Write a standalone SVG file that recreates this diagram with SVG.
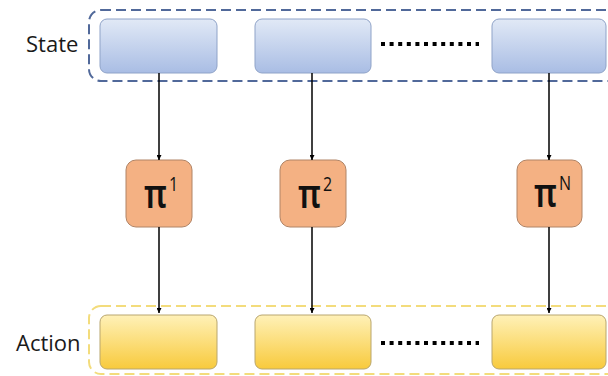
<svg xmlns="http://www.w3.org/2000/svg" width="608" height="376" viewBox="0 0 608 376">
  <defs>
    <linearGradient id="gBlue" x1="0" y1="0" x2="0" y2="1">
      <stop offset="0" stop-color="#e1e9f6"/>
      <stop offset="1" stop-color="#a9bde4"/>
    </linearGradient>
    <linearGradient id="gYellow" x1="0" y1="0" x2="0" y2="1">
      <stop offset="0" stop-color="#fff1b8"/>
      <stop offset="1" stop-color="#f8ca3c"/>
    </linearGradient>
    <marker id="arr" viewBox="0 0 10 10" refX="10" refY="5" markerWidth="5" markerHeight="5" orient="auto" markerUnits="userSpaceOnUse">
      <path d="M0,0 L10,5 L0,10 z" fill="#000"/>
    </marker>
    <style>
      .label { font-family: "Open Sans", "Liberation Sans", sans-serif; font-size: 22px; fill: #1a1a1a; }
      .pt { fill: #111; }
      .pi { font-family: "Noto Sans", "DejaVu Sans", sans-serif; font-size: 40px; font-weight: 600; }
      .sup { font-family: "Open Sans", "Liberation Sans", sans-serif; font-size: 20px; font-weight: 400; }
      .sbox { fill: url(#gBlue); stroke: #8fa3c8; stroke-width: 1; }
      .abox { fill: url(#gYellow); stroke: #b9a66e; stroke-width: 1; }
      .pbox { fill: #f4b183; stroke: #b08466; stroke-width: 1; }
      .conn { stroke: #000; stroke-width: 1.5; fill: none; marker-end: url(#arr); }
      .dots { stroke: #000; stroke-width: 4; stroke-dasharray: 4 4.6; }
    </style>
  </defs>
  <rect width="608" height="376" fill="#fff"/>

  <g id="state-group">
    <rect x="89" y="10" width="540" height="71" rx="12" fill="none" stroke="#51699a" stroke-width="2" stroke-dasharray="10 5"/>
    <text class="label" x="26" y="52">State</text>
  </g>
  <g id="action-group">
    <rect x="89" y="306" width="540" height="68" rx="12" fill="none" stroke="#f3dc7c" stroke-width="2" stroke-dasharray="10 5"/>
    <text class="label" x="16" y="351">Action</text>
  </g>

  <g id="s1"><rect class="sbox" x="100" y="19" width="117" height="54" rx="7"/></g>
  <g id="s2"><rect class="sbox" x="255" y="19" width="116" height="54" rx="7"/></g>
  <g id="s3"><rect class="sbox" x="492" y="19" width="114" height="54" rx="7"/></g>
  <g id="sdots"><line class="dots" x1="381" y1="44" x2="479" y2="44"/></g>

  <g id="p1"><rect class="pbox" x="126" y="160" width="66" height="67" rx="10"/>
    <text class="pt" transform="translate(144,208) scale(0.8,1)"><tspan class="pi">π</tspan><tspan class="sup" dx="3" dy="-17">1</tspan></text></g>
  <g id="p2"><rect class="pbox" x="280" y="160" width="66" height="67" rx="10"/>
    <text class="pt" transform="translate(298,208) scale(0.8,1)"><tspan class="pi">π</tspan><tspan class="sup" dx="3" dy="-17">2</tspan></text></g>
  <g id="p3"><rect class="pbox" x="517" y="160" width="65" height="67" rx="10"/>
    <text class="pt" transform="translate(534,207) scale(0.8,1)"><tspan class="pi">π</tspan><tspan class="sup" dx="3" dy="-17">N</tspan></text></g>

  <g id="a1"><rect class="abox" x="100" y="315" width="117" height="54" rx="7"/></g>
  <g id="a2"><rect class="abox" x="255" y="315" width="116" height="54" rx="7"/></g>
  <g id="a3"><rect class="abox" x="492" y="315" width="114" height="54" rx="7"/></g>
  <g id="adots"><line class="dots" x1="381" y1="343" x2="479" y2="343"/></g>

  <g id="connectors">
    <line class="conn" x1="159" y1="73" x2="159" y2="160"/>
    <line class="conn" x1="312" y1="73" x2="312" y2="160"/>
    <line class="conn" x1="549" y1="73" x2="549" y2="160"/>
    <line class="conn" x1="159" y1="227" x2="159" y2="313"/>
    <line class="conn" x1="312" y1="227" x2="312" y2="313"/>
    <line class="conn" x1="549" y1="227" x2="549" y2="313"/>
  </g>
</svg>
